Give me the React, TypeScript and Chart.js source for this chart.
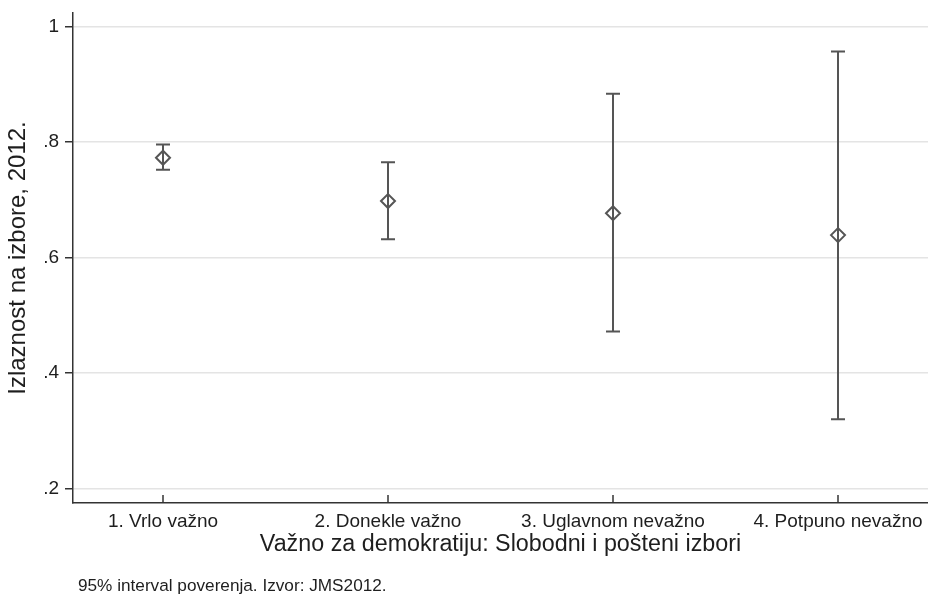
import React, { useEffect, useRef } from "react";
import { Chart, registerables } from "chart.js";

Chart.register(...registerables);

const categories = ["1. Vrlo važno", "2. Donekle važno", "3. Uglavnom nevažno", "4. Potpuno nevažno"];
const categoryPositions = [1, 2, 3, 4];
const meanValues = [0.773, 0.698, 0.677, 0.639];
const lowerValues = [0.752, 0.632, 0.472, 0.32];
const upperValues = [0.796, 0.765, 0.884, 0.957];
const yTickValues = [0.2, 0.4, 0.6, 0.8, 1];
const yTickLabels = [".2", ".4", ".6", ".8", "1"];
const xTitle = "Važno za demokratiju: Slobodni i pošteni izbori";
const yTitle = "Izlaznost na izbore, 2012.";
const footnote = "95% interval poverenja. Izvor: JMS2012.";

const FONT = "'Liberation Sans', Arial, Helvetica, sans-serif";
const MARK = "#555555";
const AXIS = "#333333";
const TEXT = "#1e1e1e";

const errorBarPlugin = {
  id: "errorBars",
  beforeDatasetsDraw(chart: any) {
    const { ctx, scales } = chart;
    const x = scales.x;
    const y = scales.y;
    ctx.save();
    ctx.strokeStyle = MARK;
    ctx.lineWidth = 2;
    categoryPositions.forEach((c, i) => {
      const px = x.getPixelForValue(c);
      const top = y.getPixelForValue(upperValues[i]);
      const bot = y.getPixelForValue(lowerValues[i]);
      ctx.beginPath();
      ctx.moveTo(px, top);
      ctx.lineTo(px, bot);
      ctx.moveTo(px - 7, top);
      ctx.lineTo(px + 7, top);
      ctx.moveTo(px - 7, bot);
      ctx.lineTo(px + 7, bot);
      ctx.stroke();
    });
    // x-axis tick marks pointing into the plot
    ctx.strokeStyle = AXIS;
    ctx.lineWidth = 1.5;
    const b = chart.chartArea.bottom;
    categoryPositions.forEach((c) => {
      const px = Math.round(x.getPixelForValue(c));
      ctx.beginPath();
      ctx.moveTo(px, b - 8);
      ctx.lineTo(px, b);
      ctx.stroke();
    });
    ctx.restore();
  },
  afterDraw(chart: any) {
    const { ctx, chartArea } = chart;
    ctx.save();
    ctx.font = `17.2px ${FONT}`;
    ctx.fillStyle = TEXT;
    ctx.textAlign = "left";
    ctx.textBaseline = "alphabetic";
    ctx.fillText(footnote, chartArea.left + 5, chart.height - 4);
    ctx.restore();
  },
};

export default function App() {
  const canvasRef = useRef<HTMLCanvasElement | null>(null);

  useEffect(() => {
    if (!canvasRef.current) return;
    const chart = new Chart(canvasRef.current, {
      type: "scatter",
      data: {
        datasets: [
          {
            data: categoryPositions.map((c, i) => ({ x: c, y: meanValues[i] })),
            pointStyle: "rectRot",
            pointRadius: 7,
            pointHoverRadius: 7,
            borderWidth: 2,
            borderColor: MARK,
            backgroundColor: "rgba(0,0,0,0)",
          },
        ],
      },
      options: {
        animation: false,
        responsive: false,
        devicePixelRatio: 1,
        layout: { autoPadding: false, padding: { top: 13, right: 0, bottom: 0, left: 0 } },
        plugins: {
          legend: { display: false },
          tooltip: { enabled: false },
        },
        scales: {
          x: {
            type: "linear",
            min: 0.6,
            max: 4.4,
            afterBuildTicks: (s: any) => {
              s.ticks = categoryPositions.map((v) => ({ value: v }));
            },
            afterFit: (s: any) => {
              s.height = 92;
              s.paddingLeft = 0;
              s.paddingRight = 0;
            },
            ticks: {
              autoSkip: false,
              maxRotation: 0,
              padding: 7,
              color: TEXT,
              font: { family: FONT, size: 19 },
              callback: (v: any) => {
                const i = categoryPositions.indexOf(Number(v));
                return i >= 0 ? categories[i] : "";
              },
            },
            grid: { display: true, drawOnChartArea: false, drawTicks: false },
            border: { display: true, color: AXIS, width: 1.5 },
            title: {
              display: true,
              text: xTitle,
              color: TEXT,
              font: { family: FONT, size: 23.3, lineHeight: 1.2 },
              padding: { top: 0, bottom: 36 },
            },
          },
          y: {
            min: 0.175,
            max: 1.0237,
            afterBuildTicks: (s: any) => {
              s.ticks = yTickValues.map((v) => ({ value: v }));
            },
            afterFit: (s: any) => {
              s.width = 73;
              s.paddingTop = 0;
              s.paddingBottom = 0;
            },
            ticks: {
              padding: 6,
              color: TEXT,
              font: { family: FONT, size: 19 },
              callback: (v: any) => {
                const i = yTickValues.findIndex((t) => Math.abs(t - Number(v)) < 1e-6);
                return i >= 0 ? yTickLabels[i] : "";
              },
            },
            grid: {
              color: "#e4e4e4",
              lineWidth: 1.5,
              drawTicks: true,
              tickLength: 8,
              tickColor: AXIS,
              tickWidth: 1.5,
            },
            border: { display: true, color: AXIS, width: 1.5 },
            title: {
              display: true,
              text: yTitle,
              color: TEXT,
              font: { family: FONT, size: 24, lineHeight: 1.2 },
              padding: { top: 4, bottom: 0 },
            },
          },
        },
      },
      plugins: [errorBarPlugin],
    } as any);
    return () => chart.destroy();
  }, []);

  return (
    <div style={{ position: "fixed", left: 0, top: 0, width: 928, height: 595, background: "#ffffff" }}>
      <canvas ref={canvasRef} width={928} height={595} />
    </div>
  );
}
